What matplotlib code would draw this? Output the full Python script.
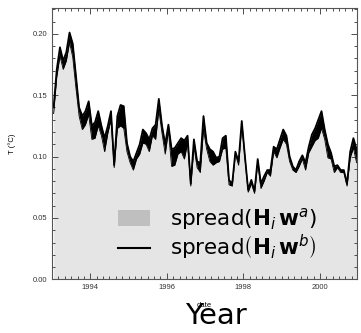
import numpy as np
import matplotlib
matplotlib.use("Agg")
import matplotlib.pyplot as plt
from matplotlib.patches import Patch
from matplotlib.lines import Line2D
from matplotlib.ticker import MultipleLocator

# monthly spread, Jan 1993 .. Dec 2000
spread_b = [0.140, 0.171, 0.189, 0.178, 0.185, 0.201, 0.192, 0.166, 0.140, 0.133, 0.137, 0.145,
            0.125, 0.128, 0.137, 0.125, 0.115, 0.125, 0.137, 0.093, 0.133, 0.142, 0.141, 0.111,
            0.100, 0.096, 0.103, 0.110, 0.122, 0.119, 0.114, 0.123, 0.126, 0.147, 0.125, 0.110,
            0.126, 0.106, 0.107, 0.111, 0.115, 0.113, 0.117, 0.078, 0.114, 0.096, 0.095, 0.133,
            0.111, 0.106, 0.104, 0.099, 0.100, 0.115, 0.117, 0.081, 0.078, 0.104, 0.096, 0.129,
            0.100, 0.073, 0.081, 0.072, 0.098, 0.078, 0.084, 0.089, 0.089, 0.108, 0.106, 0.114,
            0.122, 0.117, 0.100, 0.092, 0.089, 0.096, 0.101, 0.095, 0.108, 0.118, 0.123, 0.130,
            0.137, 0.122, 0.110, 0.103, 0.092, 0.093, 0.089, 0.089, 0.078, 0.104, 0.115, 0.106]
spread_a = [0.135, 0.165, 0.182, 0.171, 0.178, 0.193, 0.181, 0.156, 0.133, 0.122, 0.126, 0.134,
            0.114, 0.115, 0.125, 0.117, 0.104, 0.119, 0.130, 0.091, 0.123, 0.125, 0.123, 0.104,
            0.095, 0.089, 0.098, 0.102, 0.111, 0.110, 0.104, 0.117, 0.114, 0.138, 0.119, 0.102,
            0.121, 0.092, 0.093, 0.102, 0.104, 0.098, 0.111, 0.076, 0.108, 0.091, 0.087, 0.122,
            0.106, 0.096, 0.093, 0.095, 0.096, 0.106, 0.107, 0.077, 0.076, 0.102, 0.093, 0.126,
            0.098, 0.071, 0.078, 0.070, 0.095, 0.074, 0.080, 0.087, 0.084, 0.104, 0.099, 0.107,
            0.114, 0.110, 0.096, 0.089, 0.087, 0.092, 0.098, 0.089, 0.103, 0.108, 0.113, 0.115,
            0.123, 0.114, 0.099, 0.098, 0.087, 0.091, 0.087, 0.087, 0.076, 0.099, 0.107, 0.095]
date = 1993 + (np.arange(len(spread_a)) + 0.5) / 12.0

plt.rcParams['font.family'] = ['Liberation Sans', 'DejaVu Sans']
plt.rcParams['mathtext.fontset'] = 'dejavusans'

fig = plt.figure(figsize=(3.61, 3.33), dpi=100)
ax = fig.add_axes([0.144, 0.161, 0.845, 0.815])

ax.fill_between(date, 0, spread_a, color='#e5e5e5', lw=0)
ax.fill_between(date, spread_a, spread_b, color='black', lw=0)
ax.plot(date, spread_b, color='black', lw=1.3)
ax.plot(date, spread_a, color='black', lw=0.6)

ax.set_xlim(1993.0, 2000.97)
ax.set_ylim(0, 0.221)
ax.xaxis.set_major_locator(MultipleLocator(2))
ax.xaxis.set_minor_locator(MultipleLocator(1 / 6))
ax.yaxis.set_major_locator(MultipleLocator(0.05))
ax.yaxis.set_minor_locator(MultipleLocator(0.01))
ax.yaxis.set_major_formatter(matplotlib.ticker.FormatStrFormatter('%.2f'))
ax.tick_params(which='both', direction='in', top=True, right=True,
               labelsize=5.5, colors='#333333', width=0.6)
ax.tick_params(which='major', length=4)
ax.tick_params(which='minor', length=2)
for s in ax.spines.values():
    s.set_color('#555555')
    s.set_linewidth(0.8)

ax.set_xlabel('date', fontsize=5.5, labelpad=8)
ax.set_ylabel('T (°C)', fontsize=5.5, labelpad=12)

handles = [Patch(facecolor='#bfbfbf', edgecolor='none'),
           Line2D([], [], color='black', lw=1.5)]
labels = [r'spread$\left(\mathbf{H}_i\,\mathbf{w}^a\right)$',
          r'spread$\left(\mathbf{H}_i\,\mathbf{w}^b\right)$']
ax.legend(handles, labels, loc='center', bbox_to_anchor=(0.543, 0.166),
          frameon=False, handlelength=1.5, handleheight=0.8,
          labelspacing=0.05, handletextpad=0.95, borderpad=0.2,
          prop={'family': 'DejaVu Sans', 'size': 15.5})

fig.text(0.598, 0.008, 'Year', fontsize=21, family='DejaVu Sans', ha='center', va='bottom')

fig.savefig('out.png', dpi=100)
